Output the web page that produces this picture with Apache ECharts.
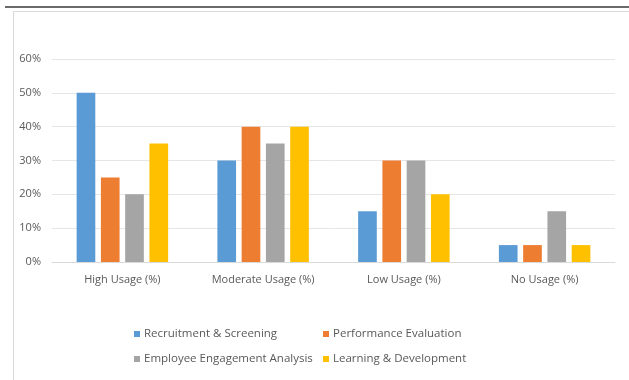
<!DOCTYPE html>
<html>
<head>
<meta charset="utf-8">
<script src="https://cdn.jsdelivr.net/npm/echarts@6/dist/echarts.min.js"></script>
<style>
  html, body { margin: 0; padding: 0; background: #ffffff; }
  #chart { width: 629px; height: 380px; }
</style>
</head>
<body>
<div id="chart"></div>
<script>
// Usage levels on the category axis
const categories = ['High Usage (%)', 'Moderate Usage (%)', 'Low Usage (%)', 'No Usage (%)'];

// Percent values per HR function
const recruitment = [50, 30, 15, 5];
const performance = [25, 40, 30, 5];
const engagement = [20, 35, 30, 15];
const learning = [35, 40, 20, 5];

const seriesNames = [
  'Recruitment & Screening',
  'Performance Evaluation',
  'Employee Engagement Analysis',
  'Learning & Development'
];
const palette = ['#5B9BD5', '#ED7D31', '#A5A5A5', '#FFC000'];
const seriesData = [recruitment, performance, engagement, learning];

const chart = echarts.init(document.getElementById('chart'), null, { renderer: 'canvas' });

const textColor = '#595959';
const fontFamily = '"Open Sans", "Liberation Sans", sans-serif';

// legend entries laid out in a 2x2 block
const legendSlots = [
  { left: 134, top: 328 },
  { left: 323, top: 328 },
  { left: 134, top: 353 },
  { left: 323, top: 353 }
];
const legends = seriesNames.map(function (name, i) {
  return {
    data: [name],
    left: legendSlots[i].left,
    top: legendSlots[i].top,
    itemWidth: 6,
    itemHeight: 6,
    itemGap: 0,
    icon: 'rect',
    padding: 0,
    textStyle: { color: textColor, fontSize: 11.5, fontFamily: fontFamily, padding: [0, 0, 0, -1] }
  };
});

chart.setOption({
  animation: false,
  backgroundColor: '#ffffff',
  color: palette,
  graphic: [
    // outer frame
    { type: 'rect', left: 11, top: 9, shape: { width: 640, height: 369 },
      style: { fill: 'none', stroke: '#d9d9d9', lineWidth: 1 }, silent: true, z: 0 },
    // dark rule along the top edge
    { type: 'rect', left: 5, top: 6, shape: { width: 630, height: 2 },
      style: { fill: '#6a6a6a' }, silent: true, z: 1 }
  ],
  legend: legends,
  grid: { left: 52, right: 14, top: 59, bottom: 118, containLabel: false },
  xAxis: {
    type: 'category',
    data: categories,
    axisLine: { lineStyle: { color: '#d9d9d9' } },
    axisTick: { show: false },
    axisLabel: { color: textColor, fontSize: 11, fontFamily: fontFamily, margin: 12 }
  },
  yAxis: {
    type: 'value',
    min: 0,
    max: 60,
    interval: 10,
    axisLine: { show: false },
    axisTick: { show: false },
    splitLine: { lineStyle: { color: '#e6e6e6' } },
    axisLabel: { color: textColor, fontSize: 11, fontFamily: fontFamily, margin: 11,
      formatter: function (v) { return v + '%'; } }
  },
  series: seriesData.map(function (d, i) {
    return {
      name: seriesNames[i],
      type: 'bar',
      data: d,
      barGap: '30%',
      barCategoryGap: '35%'
    };
  })
});
</script>
</body>
</html>
